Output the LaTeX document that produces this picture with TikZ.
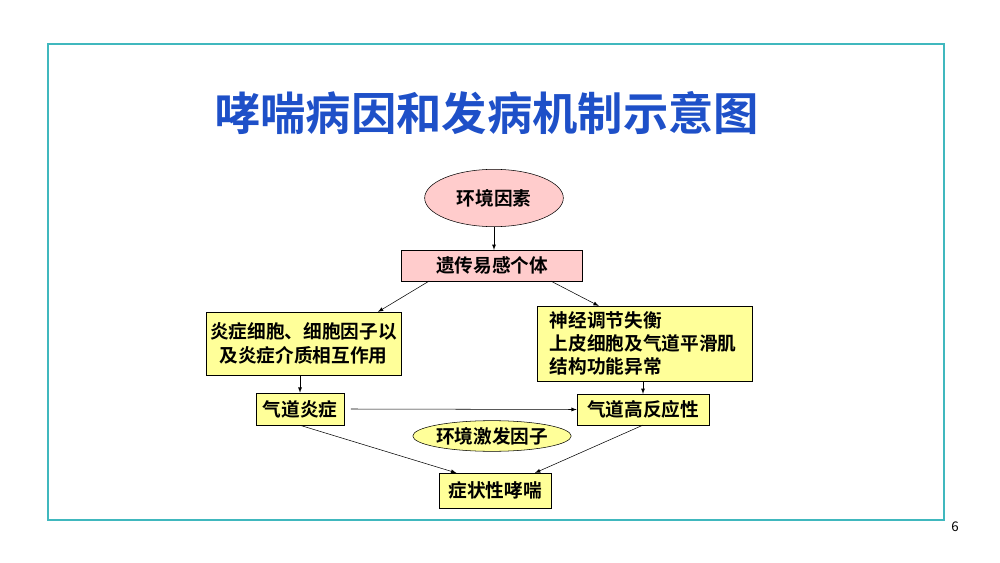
\documentclass[tikz,border=0pt]{standalone}
\usepackage{fontspec}
\newfontfamily\cjk{Noto Sans CJK SC}[BoldFont={Noto Sans CJK SC Bold}]
\usetikzlibrary{shapes.geometric}
\definecolor{pinkfill}{RGB}{255,204,204}
\definecolor{yellowfill}{RGB}{255,255,153}
\definecolor{frameteal}{RGB}{64,184,190}
\definecolor{titleblue}{RGB}{30,80,200}
\tikzset{
  box/.style={draw, inner sep=0pt, font=\cjk\bfseries\fontsize{14}{17.5}\selectfont},
  oval/.style={draw, ellipse, inner sep=0pt, font=\cjk\bfseries\fontsize{14}{17.5}\selectfont},
  arr/.style={-latex, thin}
}
\begin{document}
\begin{tikzpicture}[x=0.75pt,y=0.75pt,yscale=-1,xscale=1]
\useasboundingbox (0,0) rectangle (1000,563);

%Frame
\draw [frameteal, line width=1.5pt] (48,44) rectangle (944,520);

% Title
\node (title) [text=titleblue, font=\cjk\bfseries\fontsize{34}{38}\selectfont] at (487,113) {哮喘病因和发病机制示意图};
\node (page) [font=\cjk\fontsize{10}{12}\selectfont] at (955,527) {6};

% Nodes
\node (env) [oval, fill=pinkfill, minimum width=104pt, minimum height=43pt] at (494,198) {环境因素};
\node (gene) [box, fill=pinkfill, minimum width=136pt, minimum height=23pt] at (492,265.5) {遗传易感个体};
\node (cell) [box, fill=yellowfill, minimum width=146pt, minimum height=47pt, align=center] at (303.5,343.5) {炎症细胞、细胞因子以\\及炎症介质相互作用};
\node (nerve) [box, fill=yellowfill, minimum width=161pt, minimum height=56pt, align=left, text width=143pt] at (645,343.5) {神经调节失衡\\上皮细胞及气道平滑肌\\结构功能异常};
\node (infl) [box, fill=yellowfill, minimum width=66pt, minimum height=24pt] at (300,409) {气道炎症};
\node (hyper) [box, fill=yellowfill, minimum width=99pt, minimum height=23pt] at (643,409.5) {气道高反应性};
\node (trig) [oval, fill=yellowfill, minimum width=118pt, minimum height=23pt] at (492,436) {环境激发因子};
\node (asth) [box, fill=yellowfill, minimum width=84pt, minimum height=26pt] at (495,490.5) {症状性哮喘};

% Connectors
\draw [arr] (env) -- (env |- gene.north);
\draw [arr] ([xshift=21pt]gene.south west) -- ([xshift=129pt]cell.north west);
\draw [arr] ([xshift=-24pt]gene.south east) -- ([xshift=46pt]nerve.north west);
\draw [arr] (cell.south -| infl) -- (infl);
\draw [arr] (nerve.south -| hyper) -- (hyper);
\draw [arr] ([xshift=5pt]infl.east) -- (hyper.west);
\draw [arr] (infl.south) -- ([xshift=-29pt]asth.north);
\draw [arr] (hyper.south) -- ([xshift=30pt]asth.north);

\end{tikzpicture}
\end{document}
